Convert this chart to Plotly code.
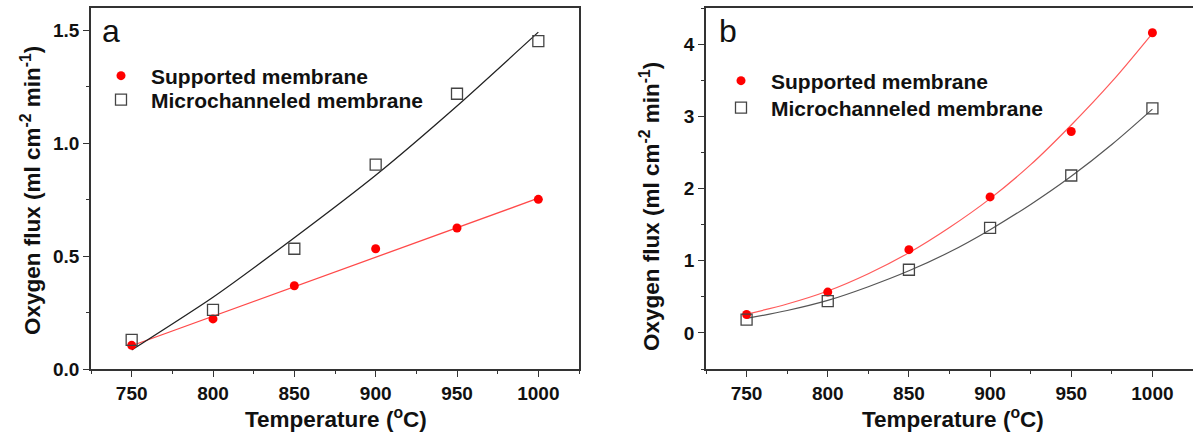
import plotly.graph_objects as go

# ---------------- data ----------------
temps = [750, 800, 850, 900, 950, 1000]

# panel a
a_supported = [0.105, 0.222, 0.369, 0.533, 0.625, 0.752]
a_micro = [0.129, 0.262, 0.533, 0.906, 1.220, 1.453]
a_sup_fit_t = [750, 1000]
a_sup_fit = [0.103, 0.757]
a_mic_fit_t = [750, 800, 850, 900, 950, 1000]
a_mic_fit = [0.084, 0.318, 0.582, 0.859, 1.166, 1.493]

# panel b
b_supported = [0.255, 0.565, 1.153, 1.884, 2.790, 4.157]
b_micro = [0.185, 0.440, 0.875, 1.454, 2.180, 3.110]
b_fit_t = [750, 775, 800, 825, 850, 875, 900, 925, 950, 975, 1000]
b_sup_fit = [0.26, 0.40, 0.58, 0.82, 1.11, 1.46, 1.86, 2.33, 2.88, 3.48, 4.15]
b_mic_fit = [0.20, 0.31, 0.45, 0.64, 0.86, 1.12, 1.43, 1.78, 2.17, 2.61, 3.10]

x_ticks = [750, 800, 850, 900, 950, 1000]
a_y_ticks = [0.0, 0.5, 1.0, 1.5]
b_y_ticks = [0, 1, 2, 3, 4]

names = ["Supported membrane", "Microchanneled membrane"]
x_title = "Temperature (<sup>o</sup>C)"
y_title = "Oxygen flux (ml cm<sup>-2</sup> min<sup>-1</sup>)"
panel_labels = ["a", "b"]

# ---------------- figure ----------------
FONT = "Liberation Sans, Arial, sans-serif"
RED = "#ff0000"
GRAY = "#444444"
W, H = 1193, 436
MT, MB = 8, 67
PH = H - MT - MB


def px(x):
    return x / W


def py(y):
    return (H - MB - y) / PH


fig = go.Figure()

# panel a lines
fig.add_trace(go.Scatter(x=a_sup_fit_t, y=a_sup_fit, mode="lines",
                         line=dict(color="#ff4a4a", width=1.3),
                         showlegend=False, xaxis="x", yaxis="y", hoverinfo="skip"))
fig.add_trace(go.Scatter(x=a_mic_fit_t, y=a_mic_fit, mode="lines",
                         line=dict(color="#222222", width=1.3, shape="spline", smoothing=0.6),
                         showlegend=False, xaxis="x", yaxis="y", hoverinfo="skip"))
# panel a markers
fig.add_trace(go.Scatter(x=temps, y=a_supported, mode="markers", name=names[0],
                         marker=dict(symbol="circle", size=9, color=RED),
                         xaxis="x", yaxis="y", legend="legend"))
fig.add_trace(go.Scatter(x=temps, y=a_micro, mode="markers", name=names[1],
                         marker=dict(symbol="square-open", size=11, color=GRAY,
                                     line=dict(width=1.3, color=GRAY)),
                         xaxis="x", yaxis="y", legend="legend2"))

# panel b lines
fig.add_trace(go.Scatter(x=b_fit_t, y=b_sup_fit, mode="lines",
                         line=dict(color="#ff5a5a", width=1.2, shape="spline"),
                         showlegend=False, xaxis="x2", yaxis="y2", hoverinfo="skip"))
fig.add_trace(go.Scatter(x=b_fit_t, y=b_mic_fit, mode="lines",
                         line=dict(color="#555555", width=1.2, shape="spline"),
                         showlegend=False, xaxis="x2", yaxis="y2", hoverinfo="skip"))
# panel b markers
fig.add_trace(go.Scatter(x=temps, y=b_supported, mode="markers", name=names[0],
                         marker=dict(symbol="circle", size=9, color=RED),
                         xaxis="x2", yaxis="y2", legend="legend3"))
fig.add_trace(go.Scatter(x=temps, y=b_micro, mode="markers", name=names[1],
                         marker=dict(symbol="square-open", size=11, color=GRAY,
                                     line=dict(width=1.3, color=GRAY)),
                         xaxis="x2", yaxis="y2", legend="legend4"))

axis_common = dict(
    showline=True, linecolor="#333333", linewidth=1.5,
    ticks="outside", ticklen=6, tickwidth=1.3, tickcolor="#333333",
    showgrid=False, zeroline=False,
    tickfont=dict(family=FONT, size=19, color="#111111", weight="bold"),
)


def minor(d):
    return dict(dtick=d, ticklen=3.5, tickwidth=1.2, tickcolor="#333333", ticks="outside")


def legend_at(x_px, y_px):
    return dict(x=px(x_px), y=py(y_px), xanchor="left", yanchor="middle",
                bgcolor="rgba(0,0,0,0)", itemwidth=50,
                font=dict(family=FONT, size=21, color="#111111", weight="bold"))


title_font = dict(family=FONT, size=22.5, color="#111111", weight="bold")


def note(text, x, y, xa="center", ya="middle", angle=0, font=title_font):
    return dict(text=text, x=px(x), y=py(y), xref="paper", yref="paper",
                xanchor=xa, yanchor=ya, showarrow=False, textangle=angle, font=font)


label_font = dict(family=FONT, size=32, color="#111111")
annotations = [
    note(panel_labels[0], 111, 31, font=label_font),
    note(panel_labels[1], 728, 31, font=label_font),
    note(x_title, 336, 418),
    note(x_title, 953, 418),
    note(y_title, 31, 191, angle=-90),
    note(y_title, 650, 206, angle=-90),
]

fig.update_layout(
    width=W, height=H,
    margin=dict(l=0, r=0, t=MT, b=MB),
    paper_bgcolor="white", plot_bgcolor="white",
    xaxis=dict(domain=[px(91), px(579)], range=[725, 1025], tickvals=x_ticks,
               mirror=True, minor=minor(25), anchor="y", **axis_common),
    yaxis=dict(domain=[0, 1], range=[0, 1.6], tickvals=a_y_ticks, tickformat=".1f",
               mirror=True, minor=minor(0.25), anchor="x", **axis_common),
    xaxis2=dict(domain=[px(706), 1.0], range=[725, 1025], tickvals=x_ticks,
                mirror=True, minor=minor(25), anchor="y2", **axis_common),
    yaxis2=dict(domain=[0, 1], range=[-0.5, 4.5], tickvals=b_y_ticks,
                mirror=False, minor=minor(0.5), anchor="x2", **axis_common),
    legend=legend_at(91, 76),
    legend2=legend_at(91, 100),
    legend3=legend_at(711, 81),
    legend4=legend_at(711, 108),
    annotations=annotations,
)

fig.write_html("out.html")
